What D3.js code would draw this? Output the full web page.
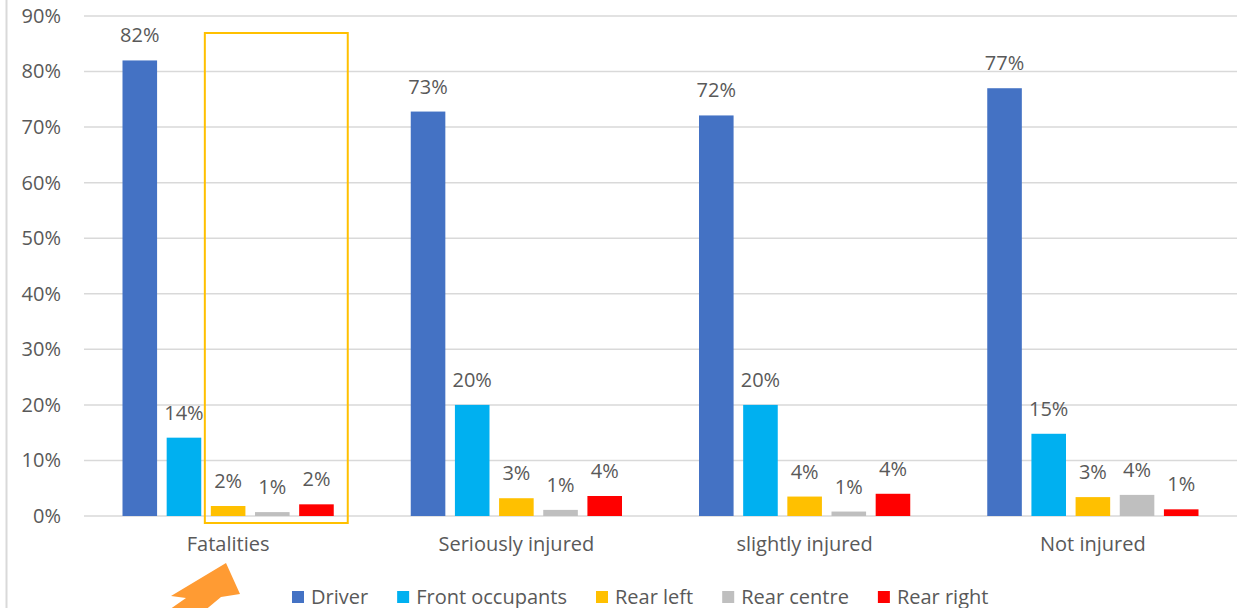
<!DOCTYPE html>
<html>
<head>
<meta charset="utf-8">
<script src="https://cdn.jsdelivr.net/npm/d3@7"></script>
<style>
  body { margin: 0; background: #fff; }
  text { font-family: "Open Sans", "Liberation Sans", sans-serif; fill: #595959; }
</style>
</head>
<body>
<div id="chart"></div>
<script>
const categories = ["Fatalities", "Seriously injured", "slightly injured", "Not injured"];
const seriesNames = ["Driver", "Front occupants", "Rear left", "Rear centre", "Rear right"];
const driver = [82.0, 72.8, 72.1, 77.0];
const frontOccupants = [14.1, 20.0, 20.0, 14.8];
const rearLeft = [1.8, 3.2, 3.5, 3.4];
const rearCentre = [0.7, 1.1, 0.8, 3.8];
const rearRight = [2.1, 3.6, 4.0, 1.2];
const yTicks = [0, 10, 20, 30, 40, 50, 60, 70, 80, 90];
const colors = ["#4472C4", "#00B0F0", "#FFC000", "#BFBFBF", "#FF0000"];

const seriesValues = [driver, frontOccupants, rearLeft, rearCentre, rearRight];
const data = categories.map((c, i) => ({
  category: c,
  values: seriesNames.map((s, j) => ({ series: s, value: seriesValues[j][i] }))
}));

let width = 1241,
  height = 608,
  margin = ({ top: 16, right: 4, bottom: 92, left: 84 });

const fontSize = 20;

const svg = d3.select("#chart")
  .append("svg")
  .attr("width", width)
  .attr("height", height)
  .attr("viewBox", [0, 0, width, height]);

let x0 = d3.scaleBand()
  .domain(categories)
  .range([margin.left, width - margin.right]);

let x1 = d3.scaleBand()
  .domain(seriesNames)
  .range([38.5, x0.bandwidth() - 38.5])
  .paddingInner(0.217);

let y = d3.scaleLinear()
  .domain([0, 90])
  .range([height - margin.bottom, margin.top]);

// outer border line on the left
svg.append("line")
  .attr("x1", 6.5).attr("x2", 6.5)
  .attr("y1", 0).attr("y2", height)
  .attr("stroke", "#D9D9D9")
  .attr("stroke-width", 2);

// grid
svg.append("g")
  .selectAll("line")
  .data(yTicks)
  .join("line")
  .attr("x1", margin.left)
  .attr("x2", width - margin.right)
  .attr("y1", d => y(d))
  .attr("y2", d => y(d))
  .attr("stroke", "#D9D9D9")
  .attr("stroke-width", 1.5);

// y axis labels
let yAxis = g => g
  .attr("transform", `translate(${margin.left - 20},0)`)
  .call(d3.axisLeft(y).tickValues(yTicks).tickFormat(d => d + "%").tickSize(0))
  .call(g => g.select(".domain").remove())
  .call(g => g.selectAll("text")
    .attr("font-size", fontSize)
    .attr("font-family", null)
    .attr("fill", "#595959"));

svg.append("g").call(yAxis);

// x axis labels
let xAxis = g => g
  .attr("transform", `translate(0,${y(0) + 18})`)
  .call(d3.axisBottom(x0).tickSize(0))
  .call(g => g.select(".domain").remove())
  .call(g => g.selectAll("text")
    .attr("font-size", fontSize)
    .attr("font-family", null)
    .attr("fill", "#595959"));

svg.append("g").call(xAxis);

const group = svg.append("g")
  .selectAll("g")
  .data(data)
  .join("g")
  .attr("transform", d => `translate(${x0(d.category)},0)`);

group.selectAll("rect")
  .data(d => d.values)
  .join("rect")
  .attr("x", d => x1(d.series))
  .attr("width", x1.bandwidth())
  .attr("y", d => y(d.value))
  .attr("height", d => y(0) - y(d.value))
  .attr("fill", (d, i) => colors[i]);

group.selectAll("text.val")
  .data(d => d.values)
  .join("text")
  .attr("class", "val")
  .attr("x", d => x1(d.series) + x1.bandwidth() / 2)
  .attr("y", d => y(d.value) - 18)
  .attr("text-anchor", "middle")
  .attr("font-size", fontSize)
  .text(d => Math.round(d.value) + "%");

// highlight box around rear seats of Fatalities
const fx = x0("Fatalities");
const boxLeft = fx + x1("Rear left") - 6;
const boxRight = fx + x1("Rear right") + x1.bandwidth() + 14;
svg.append("rect")
  .attr("x", boxLeft)
  .attr("y", 33)
  .attr("width", boxRight - boxLeft)
  .attr("height", y(0) - 33 + 7)
  .attr("fill", "none")
  .attr("stroke", "#FFC000")
  .attr("stroke-width", 2);

// orange arrow
svg.append("path")
  .attr("d", "M226,563 L240,594 L221,597 L203,612 L166,612 L186,598 L171,596 Z")
  .attr("fill", "#FF9B33");

// legend
const legend = svg.append("g");
let lx = 292;
seriesNames.forEach((s, i) => {
  const item = legend.append("g").attr("transform", `translate(${lx},0)`);
  item.append("rect")
    .attr("x", 0).attr("y", 591)
    .attr("width", 12).attr("height", 12)
    .attr("fill", colors[i]);
  const t = item.append("text")
    .attr("x", 19).attr("y", 604)
    .attr("font-size", fontSize)
    .text(s);
  lx += 19 + t.node().getComputedTextLength() + 29;
});
</script>
</body>
</html>
